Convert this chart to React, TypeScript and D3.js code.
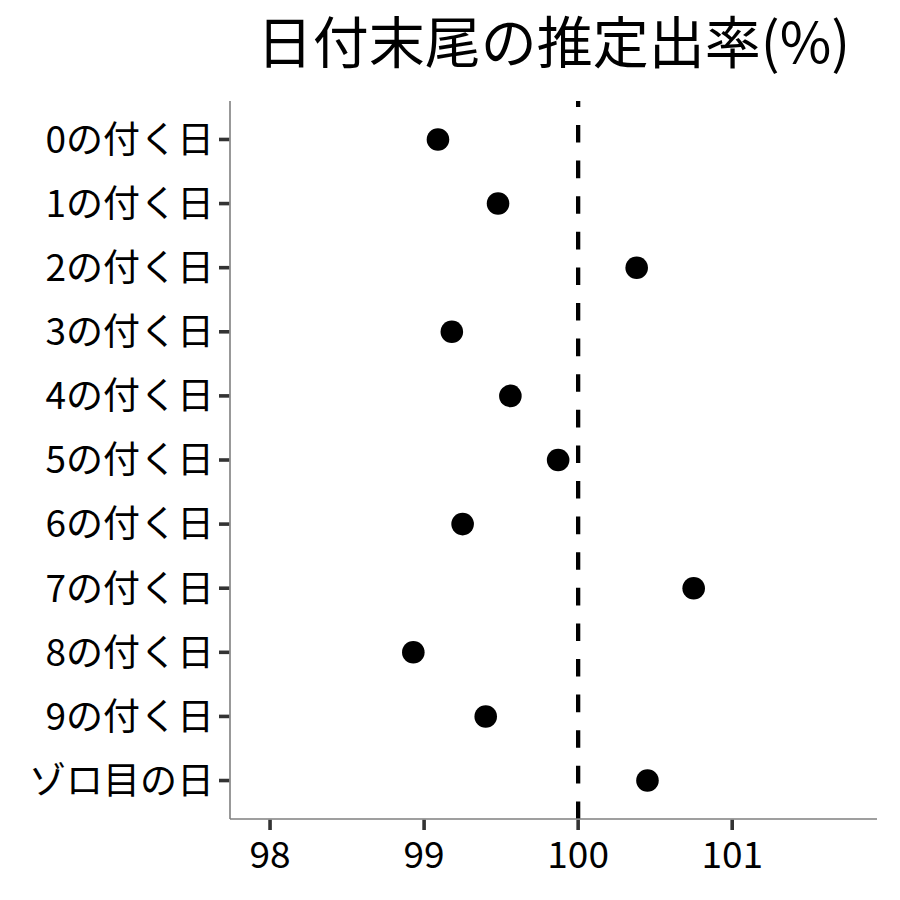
import React, { useEffect, useRef } from "react";
import * as d3 from "d3";

const categories = [
  "0の付く日",
  "1の付く日",
  "2の付く日",
  "3の付く日",
  "4の付く日",
  "5の付く日",
  "6の付く日",
  "7の付く日",
  "8の付く日",
  "9の付く日",
  "ゾロ目の日",
];
const rates = [99.09, 99.48, 100.38, 99.18, 99.56, 99.87, 99.25, 100.75, 98.93, 99.4, 100.45];
const xTicks = [98, 99, 100, 101];
const xDomain = [97.74, 101.94];
const baseline = 100;
const title = "日付末尾の推定出率(%)";

const FONT = "'Noto Sans CJK JP', 'Noto Sans', sans-serif";

const App = () => {
  const ref = useRef<SVGSVGElement>(null);

  useEffect(() => {
    const width = 900;
    const height = 900;
    const margin = { top: 101, right: 23, bottom: 81, left: 230 };

    const svg = d3.select(ref.current)
      .attr("width", width)
      .attr("height", height)
      .attr("viewBox", `0 0 ${width} ${height}`);

    svg.selectAll("*").remove();

    svg.append("rect")
      .attr("width", width)
      .attr("height", height)
      .attr("fill", "white");

    const x = d3.scaleLinear()
      .domain(xDomain)
      .range([margin.left, width - margin.right]);

    const y = d3.scalePoint<string>()
      .domain(categories)
      .range([margin.top, height - margin.bottom])
      .padding(0.6);

    const top = margin.top;
    const bottom = height - margin.bottom;

    // reference line, drawn bottom to top like ggplot
    svg.append("line")
      .attr("x1", x(baseline))
      .attr("x2", x(baseline))
      .attr("y1", bottom)
      .attr("y2", top)
      .attr("stroke", "black")
      .attr("stroke-width", 4.3)
      .attr("stroke-dasharray", "17.6 18");

    svg.append("g")
      .selectAll("circle")
      .data(rates)
      .join("circle")
      .attr("cx", d => x(d))
      .attr("cy", (d, i) => y(categories[i])!)
      .attr("r", 11.3)
      .attr("fill", "black");

    // x axis
    const xAxis = svg.append("g");
    xAxis.append("line")
      .attr("x1", margin.left)
      .attr("x2", width - margin.right)
      .attr("y1", bottom)
      .attr("y2", bottom)
      .attr("stroke", "#7f7f7f")
      .attr("stroke-width", 1.6);
    xAxis.selectAll("line.tick")
      .data(xTicks)
      .join("line")
      .attr("class", "tick")
      .attr("x1", d => x(d))
      .attr("x2", d => x(d))
      .attr("y1", bottom + 0.8)
      .attr("y2", bottom + 11)
      .attr("stroke", "#333333")
      .attr("stroke-width", 3.6);
    xAxis.selectAll("text")
      .data(xTicks)
      .join("text")
      .attr("x", d => x(d))
      .attr("y", 868)
      .attr("text-anchor", "middle")
      .attr("font-family", FONT)
      .attr("font-size", 37)
      .attr("fill", "black")
      .text(d => d3.format("d")(d));

    // y axis
    const yAxis = svg.append("g");
    yAxis.append("line")
      .attr("x1", margin.left)
      .attr("x2", margin.left)
      .attr("y1", top)
      .attr("y2", bottom)
      .attr("stroke", "#7f7f7f")
      .attr("stroke-width", 1.6);
    yAxis.selectAll("line.tick")
      .data(categories)
      .join("line")
      .attr("class", "tick")
      .attr("x1", margin.left - 11)
      .attr("x2", margin.left - 0.8)
      .attr("y1", d => y(d)!)
      .attr("y2", d => y(d)!)
      .attr("stroke", "#333333")
      .attr("stroke-width", 3.6);
    yAxis.selectAll("text")
      .data(categories)
      .join("text")
      .attr("x", 214)
      .attr("y", d => y(d)!)
      .attr("dy", "0.36em")
      .attr("text-anchor", "end")
      .attr("font-family", FONT)
      .attr("font-size", 37)
      .attr("fill", "black")
      .text(d => d);

    svg.append("text")
      .attr("x", (margin.left + width - margin.right) / 2)
      .attr("y", 63)
      .attr("text-anchor", "middle")
      .attr("font-family", FONT)
      .attr("font-size", 56)
      .attr("fill", "black")
      .text(title);
  }, []);

  return (
    <svg ref={ref} style={{ position: "absolute", left: 0, top: 0, display: "block" }}></svg>
  );
};

export default App;
